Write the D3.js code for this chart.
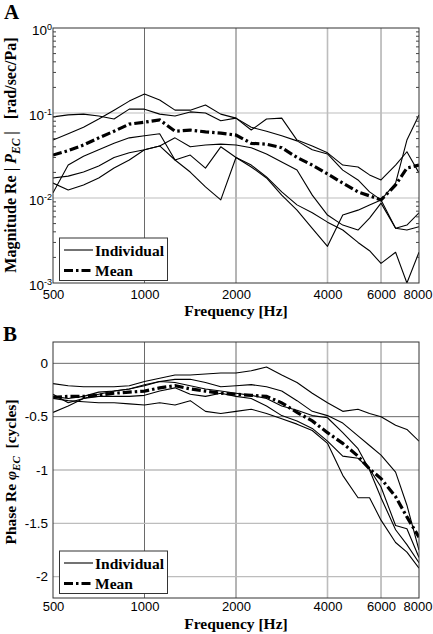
<!DOCTYPE html>
<html><head><meta charset="utf-8">
<script src="https://cdn.jsdelivr.net/npm/d3@7"></script>
<style>body{margin:0;background:#fff} svg{display:block}</style>
</head><body>
<script>
// ---------- data ----------
const freqs = [500, 561, 630, 707, 794, 891, 1000, 1122, 1260, 1414, 1587, 1782, 2000, 2245, 2520, 2828, 3175, 3564, 4000, 4490, 5040, 5500, 6000, 6700, 7300, 8000];

const magInd1 = [0.090, 0.095, 0.097, 0.092, 0.085, 0.111, 0.111, 0.097, 0.092, 0.103, 0.100, 0.081, 0.087, 0.063, 0.085, 0.087, 0.048, 0.041, 0.034, 0.0244, 0.0232, 0.0187, 0.0163, 0.0244, 0.035, 0.0197];
const magInd2 = [0.048, 0.057, 0.068, 0.085, 0.108, 0.138, 0.167, 0.142, 0.108, 0.108, 0.124, 0.097, 0.087, 0.068, 0.061, 0.054, 0.047, 0.037, 0.033, 0.0213, 0.0163, 0.0118, 0.0095, 0.0150, 0.048, 0.095];
const magInd3 = [0.0172, 0.0181, 0.0202, 0.0238, 0.030, 0.034, 0.037, 0.041, 0.051, 0.040, 0.042, 0.043, 0.042, 0.039, 0.033, 0.0265, 0.0213, 0.0108, 0.0063, 0.0048, 0.0042, 0.0058, 0.0087, 0.0044, 0.0048, 0.0067];
const magInd4 = [0.0150, 0.0124, 0.0142, 0.0172, 0.0225, 0.028, 0.037, 0.041, 0.028, 0.0202, 0.0135, 0.0095, 0.030, 0.0232, 0.0172, 0.0108, 0.0072, 0.0044, 0.0027, 0.0063, 0.0072, 0.0083, 0.0095, 0.0044, 0.0042, 0.0046];
const magInd5 = [0.0115, 0.0244, 0.031, 0.037, 0.044, 0.051, 0.054, 0.057, 0.028, 0.032, 0.0225, 0.040, 0.030, 0.0244, 0.0177, 0.0118, 0.0083, 0.0067, 0.0052, 0.0042, 0.0030, 0.0024, 0.0017, 0.0023, 0.0010, 0.0023];
const magMean = [0.032, 0.036, 0.042, 0.051, 0.061, 0.074, 0.078, 0.083, 0.061, 0.063, 0.060, 0.058, 0.055, 0.044, 0.043, 0.039, 0.030, 0.0244, 0.0192, 0.0150, 0.0118, 0.0106, 0.0095, 0.0142, 0.0225, 0.0244];

const phaseInd1 = [-0.19, -0.21, -0.22, -0.22, -0.22, -0.21, -0.17, -0.14, -0.11, -0.11, -0.10, -0.09, -0.09, -0.07, -0.035, -0.11, -0.18, -0.28, -0.37, -0.45, -0.43, -0.47, -0.50, -0.58, -0.62, -0.73];
const phaseInd2 = [-0.46, -0.40, -0.33, -0.29, -0.26, -0.24, -0.21, -0.17, -0.15, -0.15, -0.18, -0.22, -0.21, -0.20, -0.22, -0.26, -0.35, -0.45, -0.49, -0.56, -0.68, -0.77, -0.86, -1.02, -1.33, -1.75];
const phaseInd3 = [-0.33, -0.35, -0.36, -0.37, -0.37, -0.38, -0.39, -0.37, -0.39, -0.35, -0.45, -0.47, -0.45, -0.43, -0.47, -0.52, -0.57, -0.63, -0.75, -1.05, -1.26, -1.26, -1.47, -1.68, -1.77, -1.92];
const phaseInd4 = [-0.29, -0.37, -0.33, -0.31, -0.31, -0.31, -0.30, -0.26, -0.23, -0.29, -0.31, -0.28, -0.31, -0.33, -0.40, -0.49, -0.54, -0.61, -0.73, -0.87, -0.89, -0.99, -1.16, -1.52, -1.55, -1.82];
const phaseInd5 = [-0.31, -0.33, -0.31, -0.27, -0.26, -0.24, -0.20, -0.17, -0.18, -0.21, -0.24, -0.26, -0.28, -0.30, -0.33, -0.40, -0.44, -0.49, -0.51, -0.65, -0.80, -1.00, -1.26, -1.56, -1.70, -1.87];
const phaseMean = [-0.32, -0.31, -0.31, -0.30, -0.28, -0.27, -0.26, -0.23, -0.21, -0.24, -0.26, -0.28, -0.29, -0.30, -0.31, -0.37, -0.46, -0.54, -0.65, -0.75, -0.87, -0.99, -1.08, -1.25, -1.44, -1.63];

const xTickValues = [500, 1000, 2000, 4000, 6000, 8000];
const magTickValues = [1e-3, 1e-2, 1e-1, 1];
const magTickExponents = ["-3", "-2", "-1", "0"];
const phaseTickValues = [0, -0.5, -1, -1.5, -2];
const phaseTickLabels = ["0", "-0.5", "-1", "-1.5", "-2"];
const legendLabels = ["Individual", "Mean"];

// ---------- setup ----------
const SERIF = "'Liberation Serif','Times New Roman',serif";
const SANS = "'Liberation Sans',Arial,sans-serif";
const svg = d3.select("body").append("svg").attr("width", 433).attr("height", 634);
svg.append("rect").attr("width", 433).attr("height", 634).attr("fill", "#fff");

const L = 53, R = 419;
const x = d3.scaleLog().domain([500, 8000]).range([L, R]);
const yA = d3.scaleLog().domain([1e-3, 1]).range([283, 28]);
const yB = d3.scaleLinear().domain([-2.2, 0.2]).range([598, 342]);

const DARK = "#6a6a6a", LIGHT = "#bdbdbd";

function panel(opts) {
  const { y, top, bottom, clipId, individuals, mean, hGrid, vGrid, legendTop } = opts;
  const g = svg.append("g");
  g.append("clipPath").attr("id", clipId).append("rect")
    .attr("x", L).attr("y", top).attr("width", R - L).attr("height", bottom - top);

  // grid
  vGrid.forEach(([v, c, w]) => g.append("line").attr("x1", x(v)).attr("x2", x(v))
    .attr("y1", top).attr("y2", bottom).attr("stroke", c).attr("stroke-width", w));
  hGrid.forEach(([v, c, w]) => g.append("line").attr("x1", L).attr("x2", R)
    .attr("y1", y(v)).attr("y2", y(v)).attr("stroke", c).attr("stroke-width", w));

  // lines
  const line = d3.line().x((d, i) => x(freqs[i])).y(d => y(d));
  const lg = g.append("g").attr("clip-path", `url(#${clipId})`);
  individuals.forEach(s => lg.append("path").attr("d", line(s)).attr("fill", "none")
    .attr("stroke", "#000").attr("stroke-width", 1.1).attr("stroke-linejoin", "round"));
  lg.append("path").attr("d", line(mean)).attr("fill", "none").attr("stroke", "#000")
    .attr("stroke-width", 3.2).attr("stroke-dasharray", "9,3,2.5,3");

  // frame
  g.append("rect").attr("x", L).attr("y", top).attr("width", R - L).attr("height", bottom - top)
    .attr("fill", "none").attr("stroke", "#333").attr("stroke-width", 1);

  // legend
  const lgd = g.append("g");
  lgd.append("rect").attr("x", 59.5).attr("y", legendTop).attr("width", 108).attr("height", 42.5)
    .attr("fill", "#fff").attr("stroke", "#333").attr("stroke-width", 1);
  lgd.append("line").attr("x1", 64).attr("x2", 93).attr("y1", legendTop + 12).attr("y2", legendTop + 12)
    .attr("stroke", "#000").attr("stroke-width", 1.1);
  lgd.append("line").attr("x1", 64).attr("x2", 93).attr("y1", legendTop + 32.5).attr("y2", legendTop + 32.5)
    .attr("stroke", "#000").attr("stroke-width", 3.2).attr("stroke-dasharray", "9,3,2.5,3");
  legendLabels.forEach((t, i) => lgd.append("text").attr("x", 95).attr("y", legendTop + 17.5 + i * 20.5)
    .attr("font-family", SERIF).attr("font-weight", "bold").attr("font-size", 15.5).text(t));

  // x axis
  const xa = g.append("g").attr("transform", `translate(0,${bottom})`)
    .call(d3.axisBottom(x).tickValues(xTickValues).tickSize(0).tickPadding(opts.xPad).tickFormat(d3.format("d")));
  xa.select(".domain").remove();
  xa.selectAll("text").attr("font-family", SANS).attr("font-size", 13).attr("fill", "#000")
    .attr("dx", d => d === 8000 ? -1.5 : 0);

  g.append("text").attr("x", 236).attr("y", opts.xTitleY).attr("text-anchor", "middle")
    .attr("font-family", SERIF).attr("font-weight", "bold").attr("font-size", 15.5).text("Frequency [Hz]");
  return g;
}

// ---------- panel A ----------
const gA = panel({
  y: yA, top: 28, bottom: 283, clipId: "clipA",
  individuals: [magInd1, magInd2, magInd3, magInd4, magInd5], mean: magMean,
  hGrid: [[1e-1, LIGHT, 1.2], [1e-2, LIGHT, 1.2]],
  vGrid: [[1000, DARK, 1], [2000, DARK, 1], [4000, LIGHT, 1.6], [6000, LIGHT, 1.8]],
  legendTop: 238, xPad: 7, xTitleY: 316
});
// minor ticks on log y-axis
[1e-3, 1e-2, 1e-1].forEach(dec => d3.range(2, 10).forEach(k => {
  const yy = yA(k * dec);
  gA.append("line").attr("x1", L).attr("x2", L + 3).attr("y1", yy).attr("y2", yy).attr("stroke", "#444");
  gA.append("line").attr("x1", R - 3).attr("x2", R).attr("y1", yy).attr("y2", yy).attr("stroke", "#444");
}));
const yaA = gA.append("g").attr("transform", `translate(${L},0)`)
  .call(d3.axisLeft(yA).tickValues(magTickValues).tickSize(0).tickPadding(9).tickFormat(() => ""));
yaA.select(".domain").remove();
yaA.selectAll("text").each(function (d, i) {
  const t = d3.select(this).attr("font-family", SANS).attr("font-size", 13.5).attr("fill", "#000")
    .attr("dy", "0.45em");
  t.append("tspan").text("10");
  t.append("tspan").attr("dy", "-0.55em").attr("font-size", 9).text(magTickExponents[i]);
}).attr("x", -1);

const ylabA = svg.append("text").attr("transform", "translate(16,155) rotate(-90)")
  .attr("text-anchor", "middle").attr("font-family", SERIF).attr("font-weight", "bold")
  .attr("font-size", 16).style("white-space", "pre");
ylabA.append("tspan").text("Magnitude Re | ");
ylabA.append("tspan").attr("font-style", "italic").text("P");
ylabA.append("tspan").attr("font-style", "italic").attr("font-size", 11.5).attr("dy", 4).text("EC");
ylabA.append("tspan").attr("dy", -4).text(" |   [rad/sec/Pa]");

svg.append("text").attr("x", 4).attr("y", 19).attr("font-family", SERIF).attr("font-weight", "bold")
  .attr("font-size", 21).text("A");

// ---------- panel B ----------
const gB = panel({
  y: yB, top: 342, bottom: 598, clipId: "clipB",
  individuals: [phaseInd1, phaseInd2, phaseInd3, phaseInd4, phaseInd5], mean: phaseMean,
  hGrid: [[0, DARK, 1], [-0.5, DARK, 1], [-1, LIGHT, 1.3], [-1.5, LIGHT, 1.3], [-2, LIGHT, 1.3]],
  vGrid: [[1000, DARK, 1], [2000, DARK, 1], [4000, LIGHT, 1.6], [6000, LIGHT, 1.8]],
  legendTop: 551, xPad: 4, xTitleY: 629
});
const yaB = gB.append("g").attr("transform", `translate(${L},0)`)
  .call(d3.axisLeft(yB).tickValues(phaseTickValues).tickSize(0).tickPadding(5)
    .tickFormat((d, i) => phaseTickLabels[i]));
yaB.select(".domain").remove();
yaB.selectAll("text").attr("font-family", SANS).attr("font-size", 13.5).attr("fill", "#000");

const ylabB = svg.append("text").attr("transform", "translate(16,472) rotate(-90)")
  .attr("text-anchor", "middle").attr("font-family", SERIF).attr("font-weight", "bold")
  .attr("font-size", 15.5).style("white-space", "pre");
ylabB.append("tspan").text("Phase Re ");
ylabB.append("tspan").attr("font-style", "italic").text("φ");
ylabB.append("tspan").attr("font-style", "italic").attr("font-size", 11).attr("dy", 4).text("EC");
ylabB.append("tspan").attr("dy", -4).text("  [cycles]");

svg.append("text").attr("x", 3).attr("y", 341).attr("font-family", SERIF).attr("font-weight", "bold")
  .attr("font-size", 21).text("B");
</script>
</body></html>
